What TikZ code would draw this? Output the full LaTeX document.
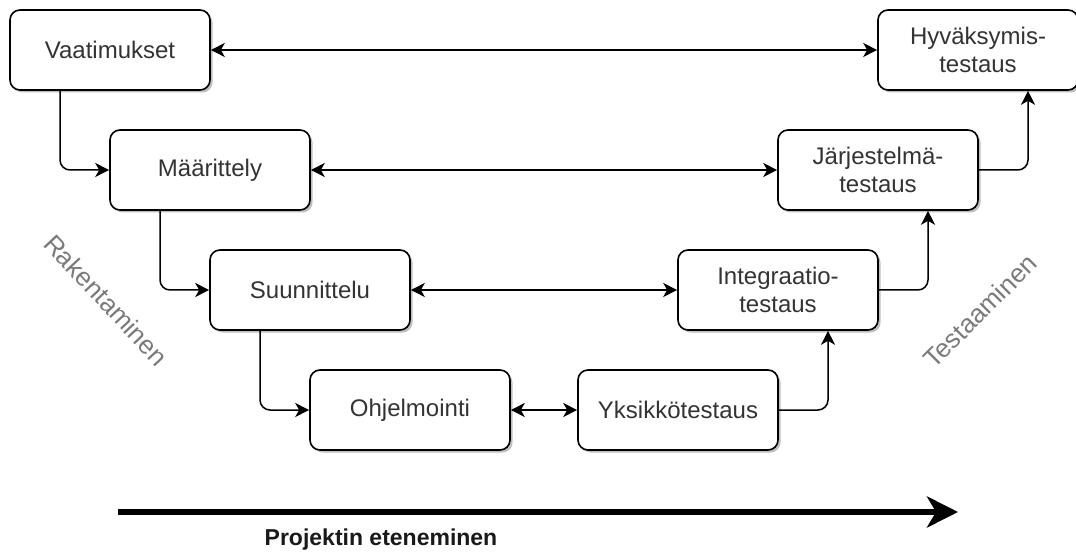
\documentclass[tikz,border=0pt]{standalone}
\usepackage{fontspec}
\setmainfont{Liberation Sans}
\usetikzlibrary{arrows.meta,shadows}

\definecolor{labelgray}{HTML}{333333}
\definecolor{phasegray}{HTML}{7A7A7A}

\tikzset{
  stage/.style={draw=black, line width=1.6pt, fill=white, rounded corners=10pt,
    minimum width=200pt, minimum height=80pt, inner sep=0pt, align=center,
    text=labelgray, font=\fontsize{24}{28}\selectfont,
    drop shadow={shadow xshift=2.5pt, shadow yshift=-2.5pt, opacity=0.25, fill=black}},
  phase/.style={text=phasegray, font=\fontsize{26}{30}\selectfont, inner sep=0pt},
  tipsmall/.tip={Stealth[length=14pt, width=14pt, inset=4pt]},
  flow/.style={line width=1.5pt, rounded corners=10pt, -tipsmall},
  link/.style={line width=1.5pt, tipsmall-tipsmall},
}

\begin{document}
\begin{tikzpicture}[x=1pt, y=-1pt]
\useasboundingbox (0,0) rectangle (1076,553);

% left branch: development stages
\node[stage] (vaat) at (110,50)  {Vaatimukset};
\node[stage] (maar) at (210,170) {Määrittely};
\node[stage] (suun) at (310,290) {Suunnittelu};
\node[stage] (ohje) at (410,410) {Ohjelmointi};

% right branch: testing stages
\node[stage] (yksi) at (678,410) {Yksikkötestaus};
\node[stage] (inte) at (778,290) {Integraatio-\\testaus};
\node[stage] (jarj) at (878,170) {Järjestelmä-\\testaus};
\node[stage] (hyva) at (978,50)  {Hyväksymis-\\testaus};

% descending flow on the left
\draw[flow] ([xshift=-50pt]vaat.south) |- (maar.west);
\draw[flow] ([xshift=-50pt]maar.south) |- (suun.west);
\draw[flow] ([xshift=-50pt]suun.south) |- (ohje.west);

% ascending flow on the right
\draw[flow] (yksi.east) -| ([xshift=50pt]inte.south);
\draw[flow] (inte.east) -| ([xshift=50pt]jarj.south);
\draw[flow] (jarj.east) -| ([xshift=50pt]hyva.south);

% correspondences between levels
\draw[link] (vaat) -- (hyva);
\draw[link] (maar) -- (jarj);
\draw[link] (suun) -- (inte);
\draw[link] (ohje) -- (yksi);

% phase labels
\node[phase, rotate=-47] (rak) at (106,300) {Rakentaminen};
\node[phase, rotate=45]  (tes) at (980,311) {Testaaminen};

% timeline
\coordinate (tstart) at (118,512);
\coordinate (tend) at (958,512);
\draw[line width=6pt, -{Stealth[length=31pt, width=31pt, inset=9pt]}] (tstart) -- (tend);
\node[text=black!90, font=\bfseries\fontsize{23}{27}\selectfont] (prog) at (381,540) {Projektin eteneminen};
\end{tikzpicture}
\end{document}
